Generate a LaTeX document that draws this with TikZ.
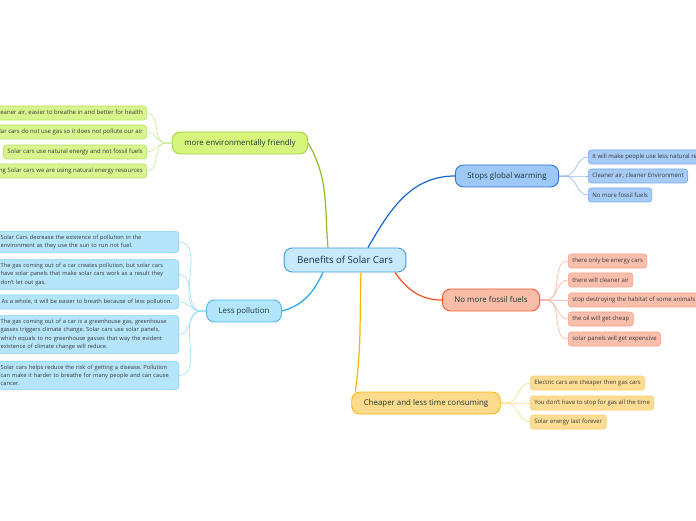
\documentclass[tikz,border=0pt]{standalone}
\usepackage{fontspec}
\setmainfont{Open Sans}
\usetikzlibrary{calc}
\definecolor{rootfill}{HTML}{C6E9FB}
\definecolor{rootline}{HTML}{3E9CD8}
\definecolor{roottext}{HTML}{14304C}
\definecolor{topictext}{HTML}{1E3A34}
\definecolor{leaftext}{HTML}{3A3A3A}
\definecolor{greenfill}{HTML}{D5F57C}
\definecolor{greenline}{HTML}{A3D13C}
\definecolor{greenedge}{HTML}{8CBF1F}
\definecolor{greensub}{HTML}{D8F58E}
\definecolor{greensubline}{HTML}{B6E164}
\definecolor{greenthin}{HTML}{C9E79A}
\definecolor{skyfill}{HTML}{B3E5FC}
\definecolor{skyline}{HTML}{4DB8EA}
\definecolor{skyedge}{HTML}{22A6E3}
\definecolor{skysub}{HTML}{B5E5FB}
\definecolor{skysubline}{HTML}{86D2F3}
\definecolor{skythin}{HTML}{9ADBF5}
\definecolor{bluefill}{HTML}{9DC8F7}
\definecolor{blueline}{HTML}{2A74D6}
\definecolor{blueedge}{HTML}{1565D0}
\definecolor{bluesub}{HTML}{A5CBF6}
\definecolor{bluesubline}{HTML}{7AA9EA}
\definecolor{bluethin}{HTML}{8FB8EE}
\definecolor{redfill}{HTML}{F9BCA8}
\definecolor{redline}{HTML}{F25A2C}
\definecolor{rededge}{HTML}{F4511E}
\definecolor{redsub}{HTML}{F9BFAC}
\definecolor{redsubline}{HTML}{F59E82}
\definecolor{redthin}{HTML}{F7B09A}
\definecolor{amberfill}{HTML}{FDDB8C}
\definecolor{amberline}{HTML}{F6B60C}
\definecolor{amberedge}{HTML}{F8B500}
\definecolor{ambersub}{HTML}{FDDC93}
\definecolor{ambersubline}{HTML}{F8CD6E}
\definecolor{amberthin}{HTML}{FBD98A}
\newcommand{\notefont}{\fontsize{5.7}{8.3}\selectfont\frenchspacing\hyphenpenalty=10000\relax}

\begin{document}
\begin{tikzpicture}[x=1pt, y=1pt,
    root/.style={draw=rootline, fill=rootfill, line width=0.9, rounded corners=8,
      minimum height=24, inner xsep=13, text=roottext, font=\fontsize{9.6}{11}\selectfont},
    topic/.style={draw=#1line, fill=#1fill, line width=0.9, rounded corners=8,
      minimum height=22, inner xsep=12, text=topictext, font=\fontsize{7.9}{9}\selectfont},
    leaf/.style={draw=#1subline, fill=#1sub, line width=0.6, rounded corners=3,
      minimum height=14, inner xsep=4, inner ysep=3.6, text=leaftext,
      font=\fontsize{6.0}{8.3}\selectfont\frenchspacing},
    note/.style={leaf=sky, anchor=east, text width=174, align=left, font=\notefont},
    branch/.style={draw=#1edge, line width=1.2},
    twig/.style={draw=#1thin, line width=0.6}]
  \useasboundingbox (0,0) rectangle (696,520);

  \node[root] (root) at (345,260) {Benefits of Solar Cars};
  \node[topic=green] (env) at (240,377) {more environmentally friendly};
  \node[topic=sky] (poll) at (244,209) {Less pollution};
  \node[topic=blue] (warm) at (507,344) {Stops global warming};
  \node[topic=red] (fossil) at (491,220) {No more fossil fuels};
  \node[topic=amber] (cheap) at (426,117) {Cheaper and less time consuming};

  % leaves
  \foreach \y/\t [count=\i] in {407/{Cleaner air, easier to breathe in and better for health},
      388/{Solar cars do not use gas so it does not pollute our air},
      368/{Solar cars use natural energy and not fossil fuels},
      349/{By using Solar cars we are using natural energy resources}}
    \node[leaf=green, anchor=east] (env\i) at (147,\y) {\t};
  \foreach \y/\t [count=\i] in {278/{Solar Cars decrease the existence of pollution in the\\ environment as they use the sun to run not fuel.},
      245.5/{The gas coming out of a car creates pollution, but solar cars\\ have solar panels that make solar cars work as a result they\\ don't let out gas.},
      218/{\hspace{1pt}As a whole, it will be easier to breath because of less pollution.},
      185.5/{The gas coming out of a car is a greenhouse gas, greenhouse\\ gasses triggers climate change. Solar cars use solar panels,\\ which equals to no greenhouse gasses that way the evident\\ existence of climate change will reduce.},
      144.5/{Solar cars helps reduce the risk of getting a disease. Pollution\\ can make it harder to breathe for many people and can cause\\ cancer.}}
    \node[note] (poll\i) at (179,\y) {\t};
  \foreach \y/\t [count=\i] in {363/{It will make people use less natural resources},
      344/{Cleaner air, cleaner Environment}, 325/{No more fossil fuels}}
    \node[leaf=blue, anchor=west] (warm\i) at (588,\y) {\t};
  \foreach \y/\t [count=\i] in {259/{there only be energy cars}, 240/{there will cleaner air},
      220/{stop destroying the habitat of some animals}, 201/{the oil will get cheap},
      181/{solar panels will get expensive}}
    \node[leaf=red, anchor=west] (fossil\i) at (568,\y) {\t};
  \foreach \y/\t [count=\i] in {137/{Electric cars are cheaper then gas cars},
      117/{You don't have to stop for gas all the time}, 98/{Solar energy last forever}}
    \node[leaf=amber, anchor=west] (cheap\i) at (530,\y) {\t};

  % main branches
  \draw[branch=green] ($(root.north)+(-17,0)$) to[out=95, in=-60] (env.east);
  \draw[branch=blue] ($(root.north)+(23,0)$) to[out=60, in=180] (warm.west);
  \draw[branch=sky] ($(root.south)+(-22,0)$) to[out=-115, in=15] (poll.east);
  \draw[branch=red] ($(root.south)+(50,0)$) to[out=-55, in=180] (fossil.west);
  \draw[branch=amber] ($(root.south)+(16,0)$) to[out=-92, in=82] ($(cheap.north west)+(4,0)$);

  % twigs
  \foreach \i in {1,...,4}
    \draw[twig=green] (env.west) -- ++(-6,0) to[out=180, in=0] (env\i.east);
  \foreach \i in {1,...,5}
    \draw[twig=sky] (poll.west) -- ++(-5,0) to[out=180, in=0] (poll\i.east);
  \foreach \i in {1,...,3}
    \draw[twig=blue] (warm.east) -- ++(6,0) to[out=0, in=180] (warm\i.west);
  \foreach \i in {1,...,5}
    \draw[twig=red] (fossil.east) -- ++(6,0) to[out=0, in=180] (fossil\i.west);
  \foreach \i in {1,...,3}
    \draw[twig=amber] (cheap.east) -- ++(6,0) to[out=0, in=180] (cheap\i.west);
\end{tikzpicture}
\end{document}
